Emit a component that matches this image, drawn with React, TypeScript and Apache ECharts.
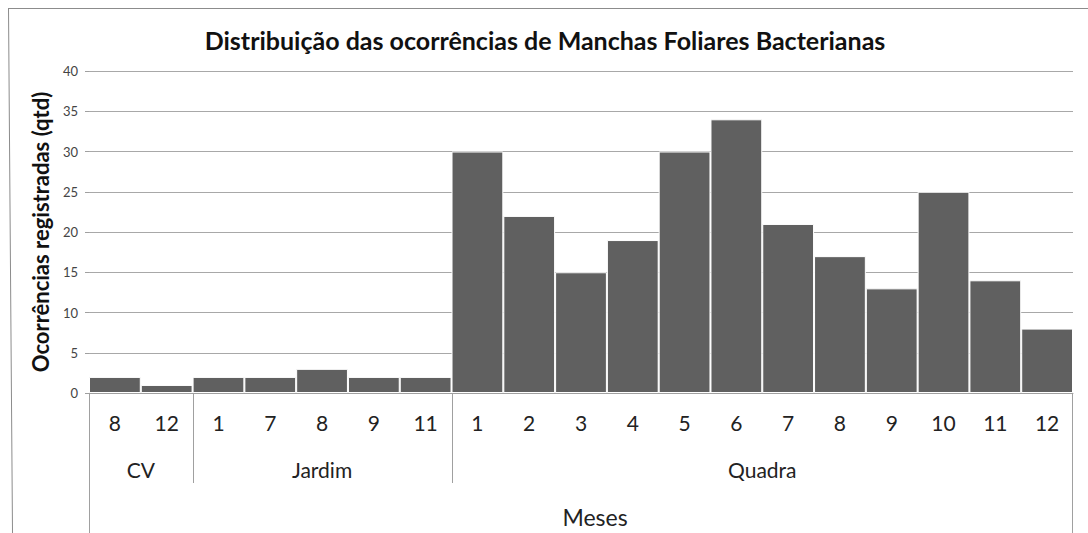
import React, { useEffect, useRef } from "react";
import * as echarts from "echarts";

const titleText = "Distribuição das ocorrências de Manchas Foliares Bacterianas";
const yAxisTitle = "Ocorrências registradas (qtd)";
const xAxisTitle = "Meses";
const months = ["8", "12", "1", "7", "8", "9", "11", "1", "2", "3", "4", "5", "6", "7", "8", "9", "10", "11", "12"];
const values = [2, 1, 2, 2, 3, 2, 2, 30, 22, 15, 19, 30, 34, 21, 17, 13, 25, 14, 8];
const groupNames = ["CV", "Jardim", "Quadra"];
const groupSizes = [2, 5, 12];
const yTicks = { min: 0, max: 40, interval: 5 };

const FONT = "Lato, 'Open Sans', sans-serif";

export default function App() {
  const ref = useRef<HTMLDivElement>(null);
  useEffect(() => {
    if (!ref.current) return;
    const chart = echarts.init(ref.current, null, { renderer: "svg" });
    const W = 1088;
    const H = 533;
    chart.setOption({
      animation: false,
      backgroundColor: "#fff",
      textStyle: { fontFamily: FONT },
      title: {
        text: titleText,
        left: 540,
        textAlign: "center",
        top: 22,
        textStyle: { fontFamily: FONT, fontWeight: "bold", fontSize: 25, color: "#111" },
      },
      grid: { left: 89, right: 15, top: 71, bottom: 140 },
      xAxis: {
        type: "category",
        data: months,
        axisTick: { show: false },
        axisLine: { show: true, lineStyle: { color: "#a0a0a0", width: 1 } },
        axisLabel: { fontSize: 21, color: "#222", margin: 19, fontFamily: FONT, interval: 0 },
        splitLine: { show: false },
      },
      yAxis: {
        type: "value",
        min: yTicks.min,
        max: yTicks.max,
        interval: yTicks.interval,
        name: yAxisTitle,
        nameLocation: "middle",
        nameGap: 38,
        nameTextStyle: { fontFamily: FONT, fontWeight: "bold", fontSize: 22, color: "#111" },
        axisLine: { show: false },
        axisTick: { show: true, length: 4, lineStyle: { color: "#a0a0a0" } },
        axisLabel: { fontSize: 13, color: "#444", margin: 11, fontFamily: FONT },
        splitLine: { show: true, lineStyle: { color: "#a8a8a8", width: 1 } },
      },
      series: [
        {
          type: "bar",
          data: values,
          barCategoryGap: "0%",
          itemStyle: { color: "#606060", borderColor: "#ffffff", borderWidth: 1 },
        },
      ],
    });

    const xPix = (i: number) => chart.convertToPixel({ xAxisIndex: 0 }, i) as number;
    const bw = xPix(1) - xPix(0);
    const boundary = (i: number) => xPix(0) + (i - 0.5) * bw;
    const y0 = chart.convertToPixel({ yAxisIndex: 0 }, 0) as number;
    const lineColor = "#a0a0a0";
    const graphics: any[] = [];
    // outer frame (top and left)
    graphics.push({ type: "line", shape: { x1: 8, y1: 8.5, x2: W, y2: 8.5 }, style: { stroke: "#8c8c8c", lineWidth: 1 } });
    graphics.push({ type: "line", shape: { x1: 8.5, y1: 8, x2: 12.5, y2: H }, style: { stroke: "#8c8c8c", lineWidth: 1 } });
    // outer vertical lines of category area
    const leftX = Math.round(boundary(0)) + 0.5;
    const rightX = Math.round(boundary(months.length)) - 0.5;
    graphics.push({ type: "line", shape: { x1: leftX, y1: y0, x2: leftX, y2: H }, style: { stroke: lineColor, lineWidth: 1 } });
    graphics.push({ type: "line", shape: { x1: rightX, y1: y0, x2: rightX, y2: H }, style: { stroke: lineColor, lineWidth: 1 } });
    let start = 0;
    groupNames.forEach((g, gi) => {
      const end = start + groupSizes[gi];
      const cx = (boundary(start) + boundary(end)) / 2;
      graphics.push({
        type: "text",
        x: cx,
        y: y0 + 76,
        style: { text: g, fontSize: 21, fontFamily: FONT, fill: "#222", align: "center", verticalAlign: "middle" },
      });
      if (gi < groupNames.length - 1) {
        const bx = Math.round(boundary(end)) + 0.5;
        graphics.push({ type: "line", shape: { x1: bx, y1: y0, x2: bx, y2: y0 + 90 }, style: { stroke: lineColor, lineWidth: 1 } });
      }
      start = end;
    });
    graphics.push({
      type: "text",
      x: (boundary(0) + boundary(months.length)) / 2 + 14,
      y: y0 + 124,
      style: { text: xAxisTitle, fontSize: 23, fontFamily: FONT, fill: "#222", align: "center", verticalAlign: "middle" },
    });
    chart.setOption({ graphic: graphics });

    return () => chart.dispose();
  }, []);
  return (
    <div
      ref={ref}
      style={{ position: "absolute", left: 0, top: 0, width: 1088, height: 533 }}
    />
  );
}
